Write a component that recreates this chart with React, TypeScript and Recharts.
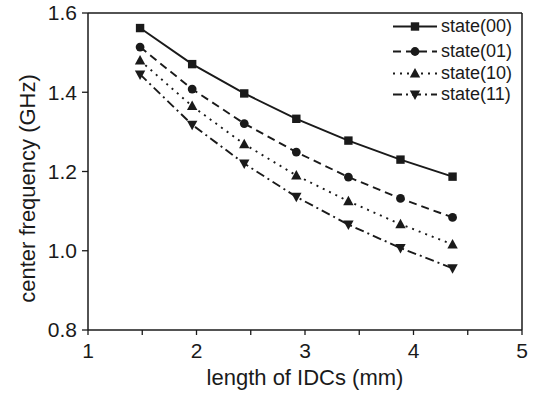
import React from 'react';
import { LineChart, Line, XAxis, YAxis, ReferenceLine, Legend, Label } from 'recharts';

const lengths = [1.48, 1.96, 2.44, 2.92, 3.4, 3.88, 4.36];
const state00 = [1.562, 1.471, 1.397, 1.333, 1.278, 1.23, 1.187];
const state01 = [1.514, 1.408, 1.321, 1.249, 1.186, 1.132, 1.084];
const state10 = [1.48, 1.365, 1.269, 1.19, 1.125, 1.067, 1.016];
const state11 = [1.445, 1.318, 1.22, 1.136, 1.066, 1.007, 0.956];
const seriesNames = ['state(00)', 'state(01)', 'state(10)', 'state(11)'];
const xTicks = [1, 1.5, 2, 2.5, 3, 3.5, 4, 4.5, 5];
const yTicks = [0.8, 1.0, 1.2, 1.4, 1.6];

const data = lengths.map((x, i) => ({
  x,
  s00: state00[i],
  s01: state01[i],
  s10: state10[i],
  s11: state11[i],
}));

const FONT = '"Liberation Sans", Arial, sans-serif';
const INK = '#1a1a1a';

const keys = ['s00', 's01', 's10', 's11'];
const dashes = [undefined, '8 5', '2 5', '9 4 2 4'];
const markerTypes = ['square', 'circle', 'up', 'down'];
const legendRowHeights = [25, 24, 21, 20];

function Marker({ cx, cy, type }: { cx: number; cy: number; type: string }) {
  if (type === 'square') return <rect x={cx - 4.2} y={cy - 4.2} width={8.4} height={8.4} fill={INK} />;
  if (type === 'circle') return <circle cx={cx} cy={cy} r={4.4} fill={INK} />;
  if (type === 'up')
    return <polygon points={`${cx},${cy - 5.5} ${cx + 5.2},${cy + 4} ${cx - 5.2},${cy + 4}`} fill={INK} />;
  return <polygon points={`${cx},${cy + 5.5} ${cx + 5.2},${cy - 4} ${cx - 5.2},${cy - 4}`} fill={INK} />;
}

const makeDot = (type: string) => (props: any) => {
  const { cx, cy, index } = props;
  if (cx == null || cy == null) return <g key={index} />;
  return <Marker key={index} cx={cx} cy={cy} type={type} />;
};

const XTick = (props: any) => {
  const { x, y, payload } = props;
  const axisY = y - 8;
  const v = payload.value;
  const major = Math.abs(v - Math.round(v)) < 1e-6;
  return (
    <g>
      <line x1={x} x2={x} y1={axisY} y2={axisY + 5} stroke={INK} strokeWidth={1.3} />
      {major && (
        <text x={x} y={axisY + 28} textAnchor="middle" fontSize={21} fontFamily={FONT} fill={INK}>
          {v}
        </text>
      )}
    </g>
  );
};

const LegendContent = () => (
  <div style={{ fontFamily: FONT, fontSize: 18, color: INK }}>
    {seriesNames.map((name, i) => (
      <div key={name} style={{ display: 'flex', alignItems: 'center', height: legendRowHeights[i] }}>
        <svg width={46} height={21}>
          <line x1={1} x2={45} y1={10.5} y2={10.5} stroke={INK} strokeWidth={1.8} strokeDasharray={dashes[i]} />
          <Marker cx={23} cy={10.5} type={markerTypes[i]} />
        </svg>
        <span style={{ marginLeft: 3 }}>{name}</span>
      </div>
    ))}
  </div>
);

export default function App() {
  return (
    <div style={{ position: 'absolute', left: 0, top: 0, width: 543, height: 397, background: '#fff' }}>
      <LineChart width={543} height={397} data={data} margin={{ top: 13, right: 21, left: 0, bottom: 0 }}>
        <XAxis
          dataKey="x"
          type="number"
          domain={[1, 5]}
          ticks={xTicks}
          interval={0}
          height={67}
          axisLine={{ stroke: INK, strokeWidth: 1.5 }}
          tickLine={false}
          tickSize={6}
          tickMargin={2}
          tick={<XTick />}
        >
          <Label
            value="length of IDCs (mm)"
            position="insideBottom"
            offset={12}
            style={{ fontSize: 22, fontFamily: FONT, fill: INK }}
          />
        </XAxis>
        <YAxis
          type="number"
          domain={[0.8, 1.6]}
          ticks={yTicks}
          interval={0}
          width={88}
          axisLine={{ stroke: INK, strokeWidth: 1.5 }}
          tickLine={{ stroke: INK, strokeWidth: 1.3 }}
          tickSize={6}
          tickMargin={5}
          tickFormatter={(v: number) => v.toFixed(1)}
          tick={{ fontSize: 21, fontFamily: FONT, fill: INK }}
        >
          <Label
            content={(props: any) => {
              const vb = props.viewBox || {};
              const cy = (vb.y ?? 13) + (vb.height ?? 317) / 2 + 17;
              const cx = 35;
              return (
                <text
                  x={cx}
                  y={cy}
                  transform={`rotate(-90 ${cx} ${cy})`}
                  textAnchor="middle"
                  fontSize={22}
                  fontFamily={FONT}
                  fill={INK}
                >
                  center frequency (GHz)
                </text>
              );
            }}
          />
        </YAxis>
        <ReferenceLine y={1.6} stroke={INK} strokeWidth={1.5} />
        <ReferenceLine x={5} stroke={INK} strokeWidth={1.5} />
        {keys.map((k, i) => (
          <Line
            key={k}
            dataKey={k}
            name={seriesNames[i]}
            type="linear"
            stroke={INK}
            strokeWidth={1.9}
            strokeDasharray={dashes[i]}
            dot={makeDot(markerTypes[i])}
            activeDot={false}
            isAnimationActive={false}
          />
        ))}
        <Legend
          layout="vertical"
          align="center"
          verticalAlign="middle"
          content={<LegendContent />}
          wrapperStyle={{ left: 392, top: 14, width: 145 }}
        />
      </LineChart>
    </div>
  );
}
